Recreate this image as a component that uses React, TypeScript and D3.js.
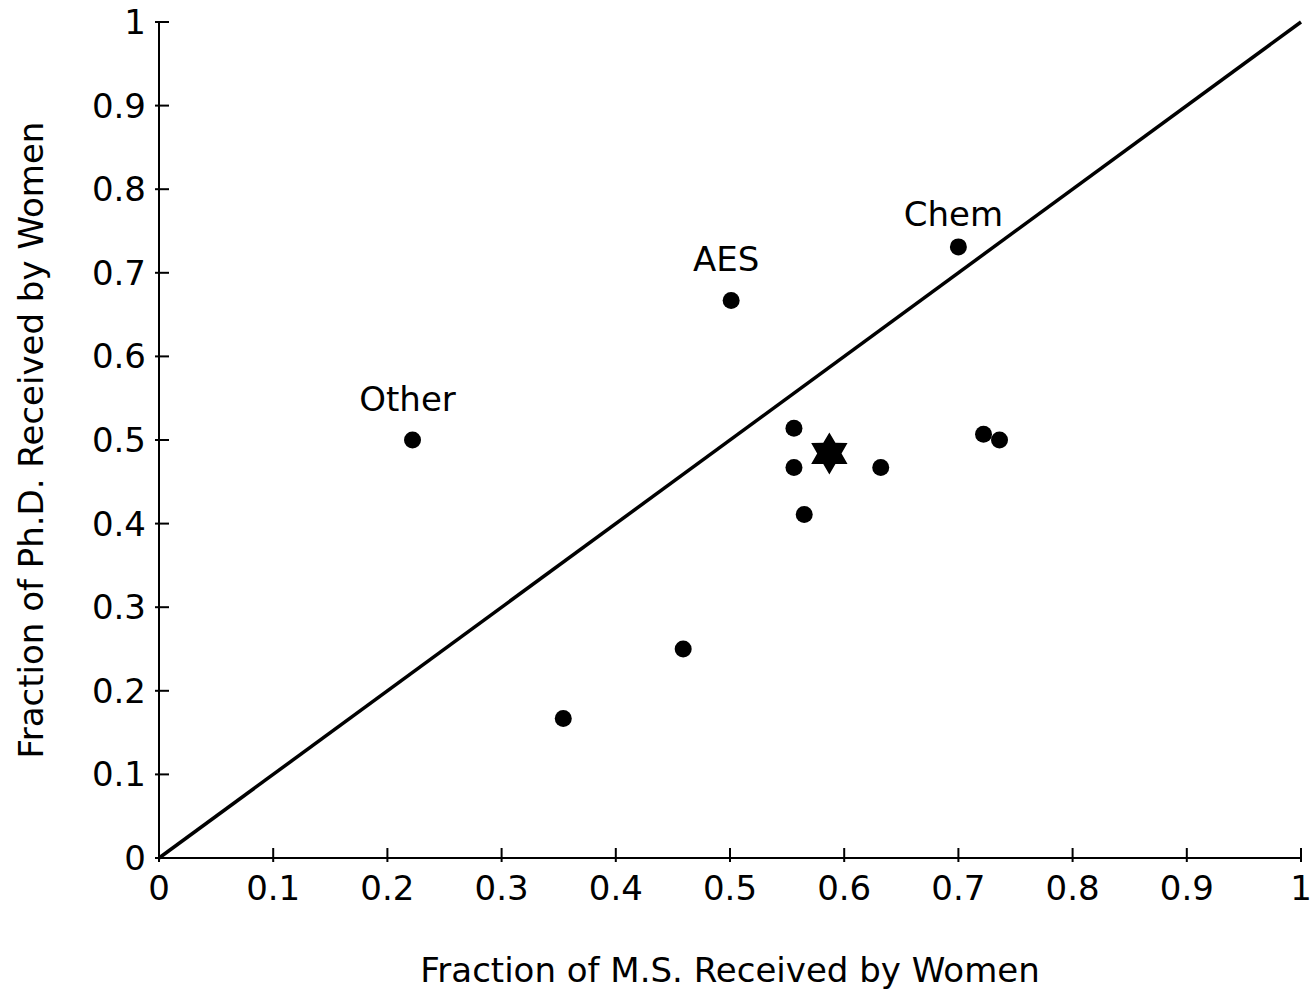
import React from "react";
import * as d3 from "d3";

// fraction of M.S. / Ph.D. degrees received by women, per department
const msFrac = [0.222, 0.501, 0.700, 0.556, 0.556, 0.565, 0.632, 0.722, 0.736, 0.459, 0.354];
const phdFrac = [0.500, 0.667, 0.731, 0.514, 0.467, 0.411, 0.467, 0.507, 0.500, 0.250, 0.167];
const pointLabels = ["Other", "AES", "Chem", "", "", "", "", "", "", "", ""];
// overall average (star)
const starMs = 0.587;
const starPhd = 0.484;

const tickValues = [0, 0.1, 0.2, 0.3, 0.4, 0.5, 0.6, 0.7, 0.8, 0.9, 1];

const W = 1313;
const H = 993;
const margin = { left: 159, right: 12, top: 22, bottom: 135 };
const font = "'DejaVu Sans', Verdana, sans-serif";
const fs = 34;

const App = () => {
    const x = d3.scaleLinear([0, 1], [margin.left, W - margin.right]);
    const y = d3.scaleLinear([0, 1], [H - margin.bottom, margin.top]);
    const fmt = (d: number) => (d === 0 || d === 1 ? String(d) : d.toFixed(1));

    const diag = d3.line<number>().x(d => x(d)).y(d => y(d))([0, 1]);

    const star = d3.symbol().type({
        draw(ctx: any, size: number) {
            // six-pointed star, point up
            const R = Math.sqrt(size);
            const r = R * 0.58;
            for (let i = 0; i < 12; i++) {
                const a = (i * Math.PI) / 6 - Math.PI / 2;
                const rr = i % 2 === 0 ? R : r;
                if (i === 0) ctx.moveTo(rr * Math.cos(a), rr * Math.sin(a));
                else ctx.lineTo(rr * Math.cos(a), rr * Math.sin(a));
            }
            ctx.closePath();
        },
    }).size(21 * 21)();

    const x0 = x(0), y0 = y(0);

    return (
        <svg width={W} height={H} style={{ position: "absolute", left: 0, top: 0, background: "#fff" }}
            fontFamily={font}>
            {/* axes */}
            <line x1={x0} x2={x(1)} y1={y0} y2={y0} stroke="#000" strokeWidth={2} />
            <line x1={x0} x2={x0} y1={y0} y2={y(1)} stroke="#000" strokeWidth={2} />
            {tickValues.map(t => (
                <g key={"x" + t}>
                    <line x1={x(t)} x2={x(t)} y1={y0 - 10} y2={y0 + 4} stroke="#000" strokeWidth={2} />
                    <text x={x(t)} y={y0 + 42} fontSize={fs} textAnchor="middle" fill="#000">{fmt(t)}</text>
                </g>
            ))}
            {tickValues.map(t => (
                <g key={"y" + t}>
                    <line x1={x0 - 4} x2={x0 + 10} y1={y(t)} y2={y(t)} stroke="#000" strokeWidth={2} />
                    <text x={x0 - 13} y={y(t) + 12} fontSize={fs} textAnchor="end" fill="#000">{fmt(t)}</text>
                </g>
            ))}

            {/* y = x reference line */}
            <path d={diag || ""} stroke="#000" strokeWidth={3.5} fill="none" />

            {/* departments */}
            {msFrac.map((m, i) => (
                <circle key={i} cx={x(m)} cy={y(phdFrac[i])} r={8.5} fill="#000" />
            ))}
            {msFrac.map((m, i) => pointLabels[i] ? (
                <text key={"l" + i} x={x(m) - 5} y={y(phdFrac[i]) - (i === 2 ? 21 : 29)}
                    fontSize={fs} textAnchor="middle" fill="#000">{pointLabels[i]}</text>
            ) : null)}

            <path d={star || ""} transform={`translate(${x(starMs)},${y(starPhd)})`} fill="#000" />

            {/* axis titles */}
            <text x={(x0 + x(1)) / 2} y={982} fontSize={fs} textAnchor="middle" fill="#000">
                Fraction of M.S. Received by Women
            </text>
            <text transform={`translate(43,${(y0 + y(1)) / 2}) rotate(-90)`} fontSize={fs}
                textAnchor="middle" fill="#000">
                Fraction of Ph.D. Received by Women
            </text>
        </svg>
    );
};

export default App;
